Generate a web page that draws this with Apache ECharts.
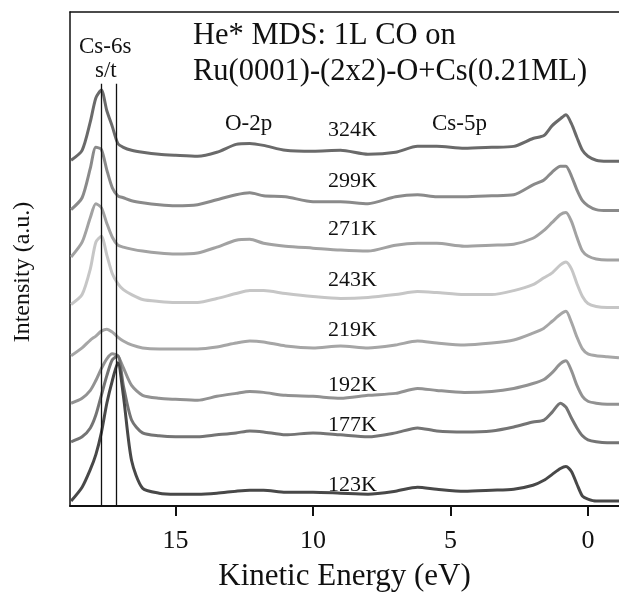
<!DOCTYPE html>
<html>
<head>
<meta charset="utf-8">
<script src="https://cdn.jsdelivr.net/npm/echarts@6/dist/echarts.min.js"></script>
<style>
html, body { margin: 0; padding: 0; background: #fff; }
#chart { width: 619px; height: 597px; }
</style>
</head>
<body>
<div id="chart"></div>
<script>
// kinetic energy grid (eV), shared by all spectra
var energy = [18.8, 18.4, 18.1, 17.9, 17.7, 17.5, 17.3, 17.1, 16.9, 16.6,
	16.2, 15.6, 15, 14.2, 13.5, 12.8, 12.3, 11.8, 11, 10,
	9, 8, 7, 6.2, 5.5, 4.5, 3.5, 2.7, 2, 1.6,
	1.3, 1.0, 0.8, 0.6, 0.4, 0.2, 0, -0.3, -0.7, -1.13];

// intensities (a.u., spectra already stacked)
var t324 = [70.0, 72.0, 77.8, 82.6, 84.2, 80.0, 76.8, 73.4, 72.6, 72.0,
	71.6, 71.2, 71.0, 70.8, 71.6, 73.2, 73.4, 73.0, 72.0, 71.8,
	72.0, 71.2, 71.6, 72.8, 72.8, 72.4, 72.6, 72.8, 74.4, 75.0,
	77.0, 78.4, 79.2, 77.4, 74.6, 72.0, 70.8, 70.0, 69.8, 69.8];
var t299 = [60.0, 62.4, 68.4, 72.6, 72.2, 68.0, 64.4, 62.8, 62.4, 61.8,
	61.4, 61.0, 60.8, 61.0, 62.0, 63.0, 63.4, 62.8, 62.6, 61.6,
	61.6, 61.2, 62.6, 63.0, 62.6, 62.6, 62.8, 63.0, 65.0, 66.0,
	67.6, 68.8, 68.8, 66.8, 64.0, 61.8, 60.8, 60.0, 59.8, 59.8];
var t271 = [50.4, 53.4, 58.4, 61.2, 60.4, 57.2, 54.4, 52.8, 52.4, 52.0,
	51.6, 51.2, 51.0, 51.2, 52.4, 53.8, 54.0, 53.2, 52.6, 52.2,
	51.8, 51.6, 52.8, 53.2, 53.2, 52.6, 52.8, 53.0, 54.2, 55.8,
	57.4, 59.0, 59.4, 57.6, 54.4, 51.6, 50.6, 50.0, 49.8, 49.8];
var t243 = [40.8, 42.8, 48.0, 53.4, 54.6, 50.8, 47.0, 45.0, 43.8, 42.8,
	41.8, 41.4, 41.2, 41.2, 42.0, 43.0, 43.6, 43.6, 43.0, 42.4,
	42.0, 42.2, 42.8, 43.4, 43.2, 42.8, 42.8, 43.6, 44.8, 46.2,
	47.2, 48.8, 49.4, 48.0, 45.0, 42.4, 41.0, 40.4, 40.2, 40.2];
var t219 = [30.4, 32.0, 33.6, 34.4, 35.4, 35.8, 35.2, 34.2, 33.4, 32.6,
	32.0, 31.8, 31.8, 31.8, 32.2, 33.0, 33.4, 33.2, 32.4, 32.0,
	32.4, 32.0, 32.6, 33.4, 33.0, 32.6, 33.0, 33.6, 35.0, 36.0,
	37.4, 38.8, 39.4, 37.2, 34.2, 31.8, 30.8, 30.4, 30.2, 30.0];
var t192 = [20.8, 21.8, 23.4, 25.4, 27.8, 29.8, 30.8, 30.4, 28.0, 24.4,
	22.4, 21.8, 21.6, 21.4, 22.2, 22.8, 23.2, 23.0, 22.4, 22.2,
	21.8, 22.4, 22.8, 23.8, 23.4, 23.0, 23.2, 23.8, 24.8, 25.6,
	27.0, 28.8, 29.4, 27.4, 24.4, 22.2, 21.2, 20.8, 20.6, 20.6];
var t177 = [13.0, 14.0, 15.8, 18.4, 22.4, 26.4, 29.6, 30.4, 24.4, 17.4,
	14.8, 14.2, 14.0, 14.0, 14.4, 14.8, 15.2, 15.0, 14.4, 14.8,
	14.4, 14.0, 14.8, 15.8, 15.2, 15.0, 15.2, 16.0, 17.0, 17.4,
	19.0, 20.8, 20.0, 17.8, 15.8, 14.2, 13.4, 13.0, 12.8, 12.8];
var t123 = [1.0, 3.8, 7.4, 10.4, 14.8, 20.8, 25.4, 29.0, 22.4, 9.2,
	3.6, 2.6, 2.4, 2.4, 2.6, 3.0, 3.2, 3.2, 2.8, 2.8,
	2.6, 2.4, 3.0, 3.8, 3.4, 3.0, 3.2, 3.4, 4.2, 5.2,
	6.4, 7.6, 8.0, 7.0, 4.4, 2.0, 1.4, 1.0, 1.0, 1.0];

var temps = ['324K', '299K', '271K', '243K', '219K', '192K', '177K', '123K'];
var spectra = [t324, t299, t271, t243, t219, t192, t177, t123];
var colors = ['#6a6a6a', '#8a8a8a', '#a2a2a2', '#c6c6c6', '#a6a6a6', '#929292', '#747474', '#484848'];
var xTicks = [0, 5, 10, 15];
// s / t marker lines (eV) and where they start (a.u.)
var refLines = [17.71, 17.14];
var refTop = 85.5;

var serif = '"Liberation Serif", "Times New Roman", serif';
var chart = echarts.init(document.getElementById('chart'));

var series = [];
for (var i = 0; i < spectra.length; i++) {
	series.push({
		name: temps[i],
		type: 'line',
		showSymbol: false,
		smooth: 0.25,
		silent: true,
		lineStyle: { color: colors[i], width: 3 },
		data: energy.map(function (e, k) { return [e, this[k]]; }, spectra[i])
	});
}
series.push({
	type: 'line',
	data: [],
	silent: true,
	markLine: {
		symbol: 'none',
		silent: true,
		label: { show: false },
		lineStyle: { color: '#111', width: 1.3, type: 'solid' },
		data: refLines.map(function (e) {
			return [{ coord: [e, refTop] }, { coord: [e, 0] }];
		})
	}
});

function label(txt, x, y, size) {
	return {
		type: 'text', x: x, y: y, silent: true,
		style: { text: txt, fill: '#111', font: size + 'px ' + serif, align: 'left', verticalAlign: 'middle' }
	};
}

var graphics = [
	label('He* MDS: 1L CO on', 193, 36, 30.5),
	label('Ru(0001)-(2x2)-O+Cs(0.21ML)', 193, 72, 30.5),
	label('Cs-6s', 79, 47, 23),
	label('s/t', 95, 71, 23),
	label('O-2p', 225, 124, 23),
	label('Cs-5p', 432, 124, 23),
	{
		type: 'text', x: 23, y: 272, rotation: Math.PI / 2, silent: true,
		style: { text: 'Intensity (a.u.)', fill: '#111', font: '24px ' + serif, align: 'center', verticalAlign: 'middle' }
	}
];
var labelY = [130, 181, 229, 280, 330, 385, 425, 485];
for (var j = 0; j < temps.length; j++) {
	graphics.push(label(temps[j], 328, labelY[j], 22));
}

var option = {
	animation: false,
	backgroundColor: '#fff',
	grid: { left: 70, right: 0, top: 12, bottom: 85 },
	xAxis: [{
		type: 'value',
		inverse: true,
		min: -1.13,
		max: 18.84,
		name: 'Kinetic Energy (eV)',
		nameLocation: 'middle',
		nameGap: 55,
		nameTextStyle: { fontFamily: serif, fontSize: 31, color: '#111' },
		axisLine: { onZero: false, lineStyle: { color: '#111', width: 2 } },
		axisTick: { show: true, length: 10, customValues: xTicks, lineStyle: { color: '#111', width: 2 } },
		axisLabel: { customValues: xTicks, margin: 22, fontFamily: serif, fontSize: 26, color: '#111' },
		splitLine: { show: false }
	}, {
		type: 'value',
		position: 'top',
		inverse: true,
		min: -1.13,
		max: 18.84,
		axisLine: { onZero: false, lineStyle: { color: '#111', width: 1.5 } },
		axisTick: { show: false },
		axisLabel: { show: false },
		splitLine: { show: false }
	}],
	yAxis: {
		type: 'value',
		position: 'left',
		min: 0,
		max: 100,
		axisLine: { show: true, onZero: false, lineStyle: { color: '#111', width: 1.5 } },
		axisTick: { show: false },
		axisLabel: { show: false },
		splitLine: { show: false }
	},
	graphic: graphics,
	series: series
};

chart.setOption(option);
</script>
</body>
</html>
